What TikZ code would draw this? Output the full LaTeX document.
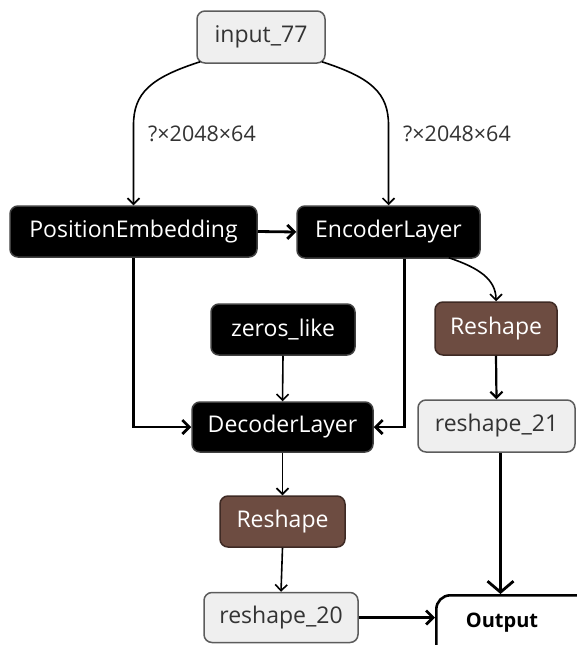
\documentclass[tikz,border=0pt]{standalone}
\usepackage{fontspec}
\setmainfont{Open Sans}
\usetikzlibrary{arrows.meta}
\definecolor{boxgray}{HTML}{EFEFEF}
\definecolor{boxedge}{HTML}{5C5C5C}
\definecolor{textgray}{HTML}{333333}
\definecolor{brownfill}{HTML}{6D4C41}
\definecolor{brownedge}{HTML}{3E2A24}
\begin{document}
\begin{tikzpicture}[x=1pt,y=-1pt,
  base/.style={rectangle, rounded corners=8pt, line width=1.5pt,
    font=\fontsize{23}{27}\selectfont, inner sep=0pt},
  datanode/.style={base, fill=boxgray, draw=boxedge, text=textgray},
  opnode/.style={base, fill=black, draw=black!75, text=white},
  shapenode/.style={base, fill=brownfill, draw=brownedge, text=white},
  edge/.style={line width=1.6pt, -{Straight Barb[length=6pt,width=12pt]}},
  midedge/.style={line width=2.2pt, -{Straight Barb[length=6pt,width=12pt]}},
  thickedge/.style={line width=2.8pt, -{Straight Barb[length=7pt,width=14pt]}},
  bigedge/.style={line width=2.8pt, -{Straight Barb[length=11pt,width=26pt]}},
  dimlabel/.style={font=\fontsize{21.5}{25}\selectfont, text=textgray, anchor=west, inner sep=0pt}
]
\useasboundingbox (0,0) rectangle (577,645);
\clip (0,0) rectangle (577,645);

% nodes
\node[datanode, minimum width=128pt, minimum height=52pt] (in) at (261,37) {input\_77};
\node[opnode, minimum width=247pt, minimum height=51pt] (pe) at (133.5,231.5) {PositionEmbedding};
\node[opnode, minimum width=183pt, minimum height=52pt] (enc) at (388.5,232) {EncoderLayer};
\node[opnode, minimum width=144pt, minimum height=51pt] (zl) at (283,329.5) {zeros\_like};
\node[shapenode, minimum width=122pt, minimum height=53pt] (rr) at (496,328.5) {Reshape};
\node[opnode, minimum width=181pt, minimum height=50pt] (dec) at (282.5,427) {DecoderLayer};
\node[datanode, minimum width=157pt, minimum height=52pt] (r21) at (496.5,426) {reshape\_21};
\node[shapenode, minimum width=125pt, minimum height=51pt] (rb) at (282.5,521.5) {Reshape};
\node[datanode, minimum width=154pt, minimum height=50pt] (r20) at (281,617.5) {reshape\_20};
\node[draw=black, line width=2.6pt, rounded corners=14pt, fill=white,
      minimum width=180pt, minimum height=80pt, anchor=north west] (out) at (435,594) {};
\node[font=\fontsize{20}{24}\selectfont\bfseries, inner sep=0pt] (outlbl) at (502,623) {Output};

% shape labels
\node[dimlabel] (lab1) at (148,134) {?×2048×64};
\node[dimlabel] (lab2) at (403,134) {?×2048×64};

% connectors
\draw[edge] ([shift={(4pt,2pt)}]in.south west) .. controls +(-50,16) and +(0,-32) .. ([yshift=80pt]pe.north) -- (pe.north);
\draw[edge] ([shift={(-4pt,2pt)}]in.south east) .. controls +(50,16) and +(0,-32) .. ([yshift=80pt]enc.north) -- (enc.north);
\draw[thickedge] (pe.east) -- (enc.west);
\draw[edge] ([xshift=-32pt,yshift=1pt]enc.south east) .. controls +(30,10) and +(0,-22) .. (rr.north);
\draw[thickedge] (pe.south) |- (dec.west);
\draw[thickedge] ([xshift=16pt]enc.south) |- (dec.east);
\draw[edge] (zl.south) -- (dec.north);
\draw[midedge] (rr.south) -- (r21.north);
\draw[edge] (dec.south) -- (rb.north);
\draw[edge] (rb.south) -- (r20.north);
\draw[bigedge] ([xshift=4pt]r21.south) -- ([xshift=4pt]r21.south |- out.north);
\draw[thickedge] (r20.east) -- (out.west |- r20.east);
\end{tikzpicture}
\end{document}
